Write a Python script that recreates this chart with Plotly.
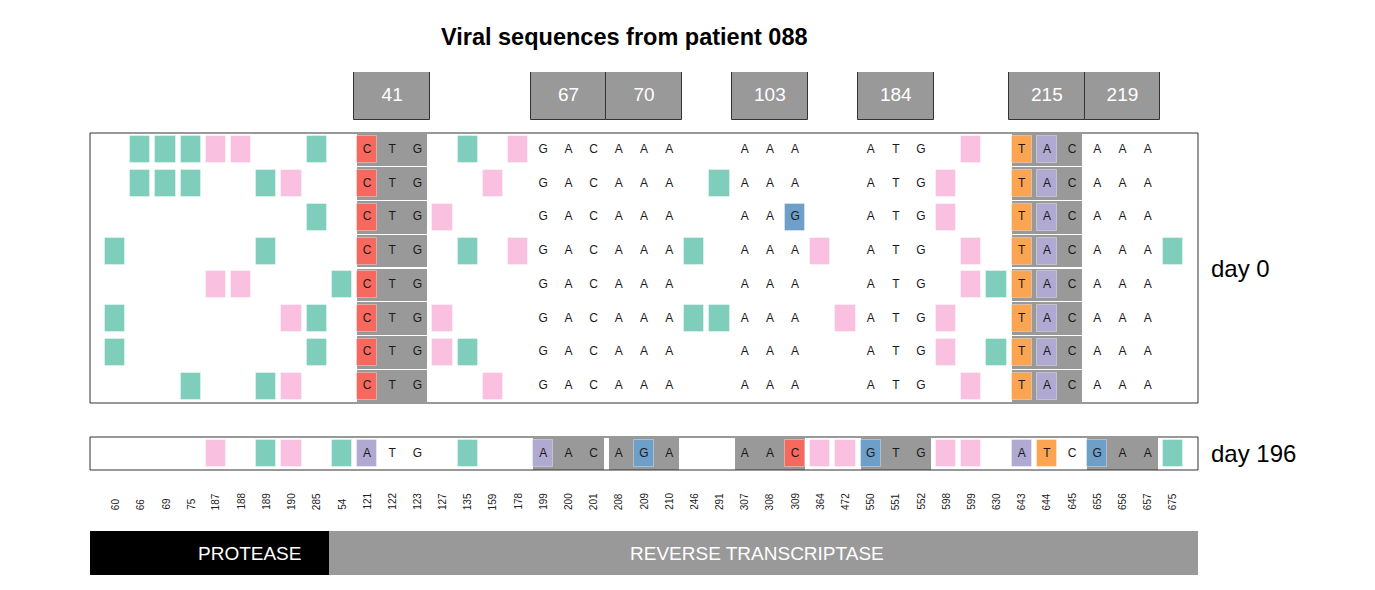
import plotly.graph_objects as go

# ---------------- data ----------------
positions = [60, 66, 69, 75, 187, 188, 189, 190, 285, 54, 121, 122, 123, 127, 135,
             159, 178, 199, 200, 201, 208, 209, 210, 246, 291, 307, 308, 309, 364,
             472, 550, 551, 552, 598, 599, 630, 643, 644, 645, 655, 656, 657, 675]
n_protease = 9  # first 9 columns are protease positions, the rest reverse transcriptase

# '-' nothing, 's' teal mark, 'n' pink mark,
# lowercase a/c/g/t plain base, uppercase A/C/G/T base on coloured tile
day0_rows = [
    "-sssnn--s-" "Ctg-s-ngac" "aaa--aaa--" "atg-n-TAca" "aa-",
    "-sss--sn--" "Ctg--n-gac" "aaa-saaa--" "atgn--TAca" "aa-",
    "--------s-" "Ctgn---gac" "aaa--aaG--" "atgn--TAca" "aa-",
    "s-----s---" "Ctg-s-ngac" "aaas-aaan-" "atg-n-TAca" "aas",
    "----nn---s" "Ctg----gac" "aaa--aaa--" "atg-nsTAca" "aa-",
    "s------ns-" "Ctgn---gac" "aaassaaa-n" "atgn--TAca" "aa-",
    "s-------s-" "Ctgns--gac" "aaa--aaa--" "atgn-sTAca" "aa-",
    "---s--sn--" "Ctg--n-gac" "aaa--aaa--" "atg-n-TAca" "aa-",
]
day196_row = "----n-sn-s" "Atg-s--Aac" "aGa--aaCnn" "Gtgnn-ATcG" "aas"

day0_codons = [41, 215]
day196_codons = [67, 70, 103, 184, 219]
codon_labels = [41, 67, 70, 103, 184, 215, 219]

genes = ["PROTEASE", "REVERSE TRANSCRIPTASE"]
panel_names = ["day 0", "day 196"]

# ---------------- styles ----------------
OFF = 8                      # page body offset of the plot div
W, H = 1360, 576
FONT = "Liberation Sans, Arial, sans-serif"
GRAY = "#999999"
mark_colors = {"s": "#7FCDBB", "n": "#F9C0E0",
               "A": "#B0A9D1", "C": "#F7695F", "G": "#6D9FC9", "T": "#FBA451"}

PL, PR = 90 - OFF, 1198 - OFF   # plot area left/right in figure pixels


def py(pix):  # screen pixel row -> paper y
    return 1 - (pix - OFF) / H


def px(pix):  # screen pixel column -> paper x
    return (pix - OFF - PL) / (PR - PL)


ncol = len(positions)
xmin, xmax = -1, ncol


def codon_cols(c):
    nts = {3 * c - 2, 3 * c - 1, 3 * c}
    return [i for i in range(n_protease, ncol) if positions[i] in nts]


fig = go.Figure()


def add_panel(rows, yaxis, codons):
    gx, gw, gb = [], [], []
    tx, tb, tc = [], [], []
    lx, ly, lt = [], [], []
    for r, seq in enumerate(rows, start=1):
        for c in codons:
            cols = codon_cols(c)
            gx.append(sum(cols) / len(cols))
            gw.append(max(cols) - min(cols) + 0.8)
            gb.append(r - 0.485)
        for i, ch in enumerate(seq):
            if ch in "sn" or ch in "ACGT":
                tx.append(i)
                tb.append(r - 0.4)
                tc.append(mark_colors[ch])
            if ch.upper() in "ACGT":
                lx.append(i)
                ly.append(r)
                lt.append(ch.upper())
    fig.add_trace(go.Bar(x=gx, y=[0.97] * len(gx), base=gb, width=gw,
                         marker=dict(color=GRAY, line=dict(width=0)),
                         yaxis=yaxis, hoverinfo="skip", showlegend=False))
    fig.add_trace(go.Bar(x=tx, y=[0.8] * len(tx), base=tb, width=[0.8] * len(tx),
                         marker=dict(color=tc, line=dict(width=1, color="rgba(255,255,255,0.35)")),
                         yaxis=yaxis, hoverinfo="skip", showlegend=False))
    fig.add_trace(go.Scatter(x=lx, y=ly, text=lt, mode="text",
                             textfont=dict(family=FONT, size=12, color="#1a1a1a"),
                             yaxis=yaxis, hoverinfo="skip", showlegend=False))


add_panel(day0_rows, "y", day0_codons)
add_panel([day196_row], "y2", day196_codons)

# codon boxes on top
bx = [sum(codon_cols(c)) / 3 for c in codon_labels]
fig.add_trace(go.Bar(x=bx, y=[1] * len(bx), base=[0] * len(bx),
                     width=[len(codon_cols(c)) for c in codon_labels],
                     marker=dict(color=GRAY, line=dict(width=1, color="#333333")),
                     cliponaxis=False,
                     yaxis="y3", hoverinfo="skip", showlegend=False))
fig.add_trace(go.Scatter(x=bx, y=[0.5] * len(bx), text=[str(c) for c in codon_labels],
                         mode="text", textfont=dict(family=FONT, size=19, color="white"),
                         yaxis="y3", hoverinfo="skip", showlegend=False))

# gene bar
edges = [xmin, n_protease - 0.5, xmax]
fig.add_trace(go.Bar(x=[(edges[k] + edges[k + 1]) / 2 for k in range(2)],
                     y=[1, 1], base=[0, 0],
                     width=[edges[k + 1] - edges[k] for k in range(2)],
                     marker=dict(color=["black", GRAY], line=dict(width=0)),
                     yaxis="y4", hoverinfo="skip", showlegend=False))

annotations = []
for lab, gx in zip(genes, [5.35, 25.5]):
    annotations.append(dict(x=gx, y=0.5, xref="x", yref="y4", text=lab, showarrow=False,
                            font=dict(family=FONT, size=19, color="white")))

# position labels (rotated)
for i, p in enumerate(positions):
    annotations.append(dict(x=i, y=py(512), xref="x", yref="paper", text=str(p),
                            textangle=-90, showarrow=False, xanchor="center", yanchor="bottom",
                            font=dict(family=FONT, size=10, color="#222222")))

# panel labels
for name, yr in zip(panel_names, ["y domain", "y2 domain"]):
    annotations.append(dict(x=px(1209), y=0.5, xref="paper", yref=yr, text=name,
                            showarrow=False, xanchor="left", yanchor="middle",
                            font=dict(family=FONT, size=24, color="black")))

# title
annotations.append(dict(x=px(624), y=py(37), xref="paper", yref="paper",
                        text="<b>Viral sequences from patient 088</b>", showarrow=False,
                        xanchor="center", yanchor="middle",
                        font=dict(family=FONT, size=23.5, color="black")))

shapes = []
for yr in ["y domain", "y2 domain"]:
    shapes.append(dict(type="rect", xref="x domain", yref=yr, x0=0, x1=1, y0=0, y1=1,
                       line=dict(color="#333333", width=1), fillcolor="rgba(0,0,0,0)",
                       layer="above"))

hid = dict(visible=False, fixedrange=True)
fig.update_layout(
    width=W, height=H, autosize=False,
    margin=dict(l=PL, r=W - PR, t=0, b=0),
    paper_bgcolor="white", plot_bgcolor="white",
    barmode="overlay", bargap=0,
    xaxis=dict(range=[xmin, xmax], **hid),
    yaxis=dict(domain=[py(403), py(133)], range=[len(day0_rows) + 0.5, 0.5], anchor="x", **hid),
    yaxis2=dict(domain=[py(470), py(437)], range=[0.5, 1.5], anchor="x", **hid),
    yaxis3=dict(domain=[py(120), py(72)], range=[0, 1], anchor="x", **hid),
    yaxis4=dict(domain=[py(575), py(531)], range=[0, 1], anchor="x", **hid),
    annotations=annotations,
    shapes=shapes,
    showlegend=False,
)

fig.write_html("out.html")
